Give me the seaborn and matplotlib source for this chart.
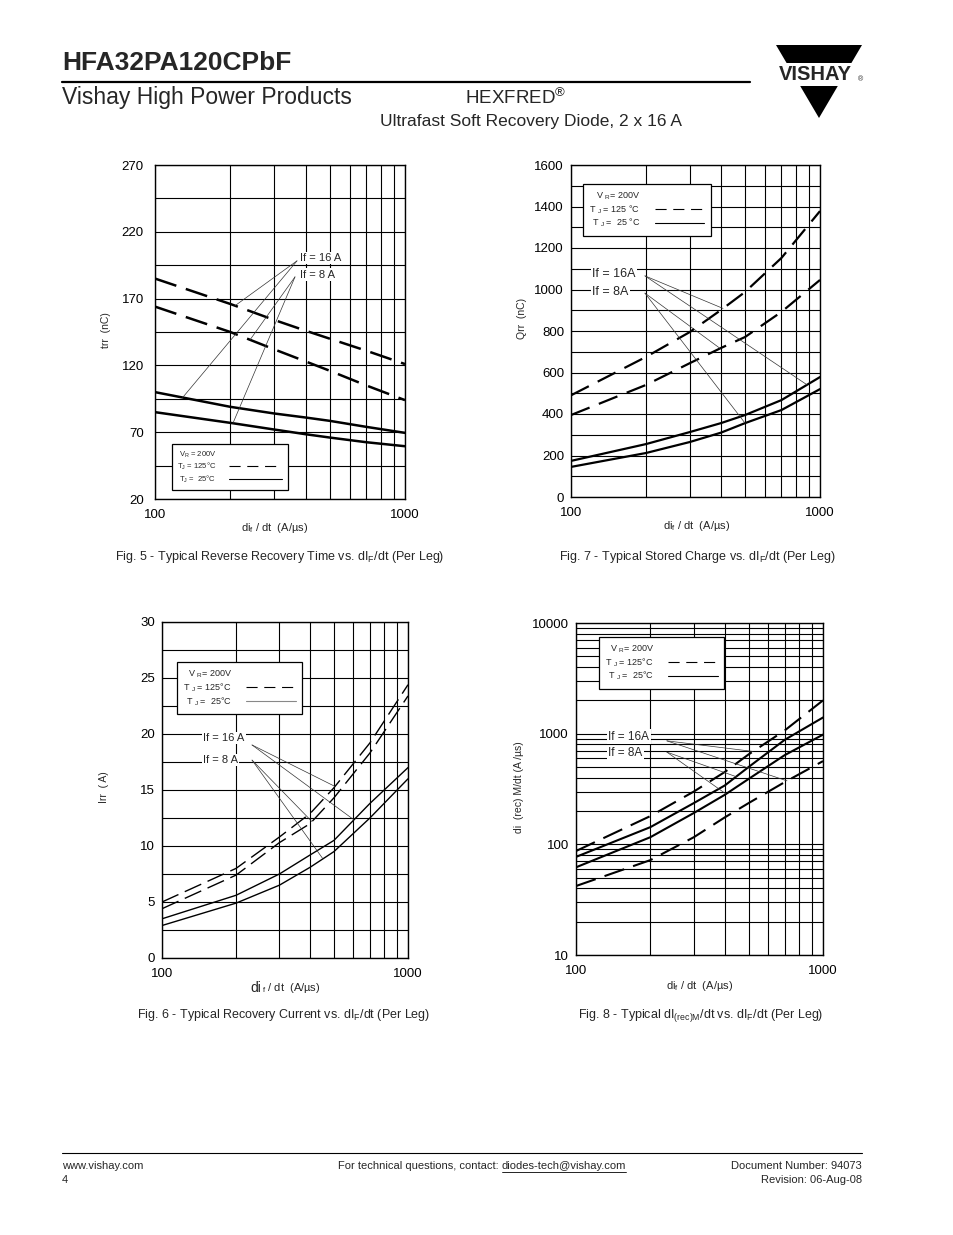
import numpy as np
import pandas as pd
import matplotlib
matplotlib.use("Agg")
import matplotlib.pyplot as plt
from matplotlib.lines import Line2D
from matplotlib.patches import Polygon
from matplotlib.ticker import FixedLocator, NullFormatter, LogLocator
import seaborn as sns

sns.set_style("white")
plt.rcParams['font.family'] = ['Liberation Sans', 'DejaVu Sans']
plt.rcParams['mathtext.default'] = 'regular'

# eixo x comum: di_f/dt (A/us)
didt = [100, 200, 300, 400, 500, 700, 1000]
x_ticks = [100, 1000]
x_minor = [200, 300, 400, 500, 600, 700, 800, 900]

# Fig. 5 - trr
trr_16a_125 = [185, 166, 154, 146, 140, 131, 121]
trr_8a_125 = [164, 145, 132, 123, 116, 105, 94]
trr_16a_25 = [100, 89, 84, 81, 78.5, 74, 69.5]
trr_8a_25 = [85, 77, 72, 68.5, 66, 62.5, 59.5]
trr_ticks = [20, 70, 120, 170, 220, 270]
trr_minor = [45, 95, 145, 195, 245]

# Fig. 7 - Qrr
qrr_16a_125 = [490, 675, 795, 901, 988, 1152, 1378]
qrr_8a_125 = [395, 540, 645, 718, 771, 892, 1046]
qrr_16a_25 = [174, 255, 313, 356, 395, 467, 578]
qrr_8a_25 = [145, 212, 265, 310, 356, 419, 520]
qrr_ticks = [0, 200, 400, 600, 800, 1000, 1200, 1400, 1600]
qrr_minor = [100, 300, 500, 700, 900, 1100, 1300, 1500]

# Fig. 6 - Irr
irr_16a_125 = [5.0, 8.0, 10.8, 12.9, 15.2, 19.2, 24.4]
irr_8a_125 = [4.4, 7.4, 10.3, 12.0, 14.3, 18.3, 23.4]
irr_16a_25 = [3.5, 5.6, 7.5, 9.2, 10.5, 13.8, 17.0]
irr_8a_25 = [2.9, 4.9, 6.5, 8.1, 9.5, 12.5, 16.0]
irr_ticks = [0, 5, 10, 15, 20, 25, 30]
irr_minor = [2.5, 7.5, 12.5, 17.5, 22.5, 27.5]

# Fig. 8 - di(rec)M/dt
direc_16a_125 = [87, 180, 300, 450, 650, 1070, 2000]
direc_16a_25 = [77, 143, 236, 340, 500, 880, 1400]
direc_8a_25 = [62, 116, 192, 280, 390, 640, 980]
direc_8a_125 = [42, 72, 116, 175, 236, 365, 565]
direc_ticks = [10, 100, 1000, 10000]


def ponto(vals, x, logy=False):
    lx = np.log10(didt)
    if logy:
        return x, 10 ** np.interp(np.log10(x), lx, np.log10(vals))
    return x, np.interp(np.log10(x), lx, vals)


def desenha(ax, series, lw, traco, ylim, yticks, yminor=None, logy=False):
    partes = []
    for nome, tj, vals in series:
        partes.append(pd.DataFrame({'didt': didt, 'valor': vals, 'curva': nome, 'tj': tj}))
    df = pd.concat(partes, ignore_index=True)
    sns.lineplot(data=df, x='didt', y='valor', hue='curva', style='tj',
                 palette=['black'] * len(series), dashes={'125': traco, '25': ''},
                 linewidth=lw, estimator=None, legend=False, ax=ax)
    ax.set_xscale('log')
    if logy:
        ax.set_yscale('log')
    ax.set_xlim(100, 1000)
    ax.set_ylim(*ylim)
    ax.set_xticks(x_ticks)
    ax.set_xticklabels([str(v) for v in x_ticks])
    ax.xaxis.set_minor_locator(FixedLocator(x_minor))
    ax.xaxis.set_minor_formatter(NullFormatter())
    ax.set_yticks(yticks)
    ax.set_yticklabels([str(v) for v in yticks])
    if yminor is not None:
        ax.yaxis.set_minor_locator(FixedLocator(yminor))
    ax.yaxis.set_minor_formatter(NullFormatter())
    ax.grid(True, which='both', color='black', lw=0.8)
    ax.set_axisbelow(True)
    ax.set_xlabel('')
    ax.set_ylabel('')
    for s in ax.spines.values():
        s.set_color('black')
        s.set_linewidth(1.0)
    ax.tick_params(which='both', length=0, labelsize=9.5, colors='black')
    ax.tick_params(axis='x', pad=7)
    ax.tick_params(axis='y', pad=5)


def legenda(ax, anchor, fs, lw_h, labels, cor_solida='black', loc='upper left', hl=5.5):
    h = [Line2D([], [], color='none'),
         Line2D([], [], color='black', lw=lw_h, dashes=(10, 6)),
         Line2D([], [], color=cor_solida, lw=lw_h)]
    leg = ax.legend(h, labels, loc=loc, bbox_to_anchor=anchor, markerfirst=False,
                    frameon=True, fancybox=False, edgecolor='black', framealpha=1,
                    fontsize=fs, handlelength=hl, borderpad=0.7, labelspacing=0.15,
                    handletextpad=1.6, borderaxespad=0)
    leg.get_frame().set_linewidth(0.9)
    leg.set_zorder(6)


def anota(ax, texto, pos, origem, alvos, fs):
    ax.text(pos[0], pos[1], texto, transform=ax.transAxes, fontsize=fs, ha='left',
            va='center', bbox=dict(fc='white', ec='none', pad=1), zorder=5)
    for xa, ya in alvos:
        ax.annotate('', xy=(xa, ya), xycoords='data', xytext=origem,
                    textcoords='axes fraction',
                    arrowprops=dict(arrowstyle='-', lw=0.5, color='#333333',
                                    shrinkA=0, shrinkB=0), zorder=5)


fig = plt.figure(figsize=(9.54, 12.35), dpi=100)
W, H = 954, 1235


def caixa(l, t, r, b):
    return [l / W, 1 - b / H, (r - l) / W, (b - t) / H]


lab_x = 'di$_{ f}$ / dt  (A/\u00b5s)'

# ---- Fig. 5
ax5 = fig.add_axes(caixa(155, 165, 405, 499))
desenha(ax5, [('16a125', '125', trr_16a_125), ('8a125', '125', trr_8a_125),
              ('16a25', '25', trr_16a_25), ('8a25', '25', trr_8a_25)],
        1.8, (9, 4), (20, 270), trr_ticks, trr_minor)
ax5.tick_params(axis='y', which='both', length=3, direction='out', width=0.8)
legenda(ax5, (0.068, 0.027), 5.5, 0.8,
        ['V$_R$ = 200V', 'T$_J$ = 125\u00b0C', 'T$_J$ =  25\u00b0C'], loc='lower left', hl=7)
anota(ax5, 'If = 16 A', (0.58, 0.722), (0.568, 0.713),
      [ponto(trr_16a_125, 209), ponto(trr_16a_25, 129)], 8)
anota(ax5, 'If = 8 A', (0.58, 0.672), (0.56, 0.665),
      [ponto(trr_8a_125, 240), ponto(trr_8a_25, 205)], 8)
ax5.text(-0.196, 0.506, 'trr  (nC)', transform=ax5.transAxes, rotation=90,
         ha='center', va='center', fontsize=7.5)
ax5.text(0.48, -0.087, lab_x, transform=ax5.transAxes, ha='center', va='center', fontsize=8)

# ---- Fig. 7
ax7 = fig.add_axes(caixa(571, 165, 820, 497))
desenha(ax7, [('16a125', '125', qrr_16a_125), ('8a125', '125', qrr_8a_125),
              ('16a25', '25', qrr_16a_25), ('8a25', '25', qrr_8a_25)],
        1.6, (9, 4.5), (0, 1600), qrr_ticks, qrr_minor)
legenda(ax7, (0.048, 0.943), 6.5, 0.8,
        ['V $_R$= 200V', 'T $_J$ = 125 \u00b0C', 'T $_J$ =  25 \u00b0C'])
anota(ax7, 'If = 16A', (0.084, 0.672), (0.297, 0.666),
      [ponto(qrr_16a_125, 408), ponto(qrr_16a_25, 887)], 9)
anota(ax7, 'If = 8A', (0.084, 0.617), (0.297, 0.614),
      [ponto(qrr_8a_125, 397), ponto(qrr_8a_25, 500)], 9)
ax7.text(-0.197, 0.539, 'Qrr  (nC)', transform=ax7.transAxes, rotation=90,
         ha='center', va='center', fontsize=7.5)
ax7.text(0.506, -0.087, lab_x, transform=ax7.transAxes, ha='center', va='center', fontsize=8)

# ---- Fig. 6
ax6 = fig.add_axes(caixa(162, 622, 408, 958))
desenha(ax6, [('16a125', '125', irr_16a_125), ('8a125', '125', irr_8a_125),
              ('16a25', '25', irr_16a_25), ('8a25', '25', irr_8a_25)],
        1.0, (13, 5), (0, 30), irr_ticks, irr_minor)
legenda(ax6, (0.061, 0.881), 6.5, 0.8,
        ['V $_R$= 200V', 'T $_J$ = 125\u00b0C', 'T $_J$ =  25\u00b0C'], cor_solida='#888888')
anota(ax6, 'If = 16 A', (0.167, 0.655), (0.366, 0.634),
      [ponto(irr_16a_125, 505), ponto(irr_16a_25, 603)], 8)
anota(ax6, 'If = 8 A', (0.167, 0.589), (0.366, 0.589),
      [ponto(irr_8a_125, 407), ponto(irr_8a_25, 451)], 8)
ax6.text(-0.236, 0.509, 'Irr  ( A)', transform=ax6.transAxes, rotation=90,
         ha='center', va='center', fontsize=7.5)
ax6.text(0.405, -0.089, 'di', transform=ax6.transAxes, ha='right', va='center', fontsize=10)
ax6.text(0.408, -0.089, '$_{f}$ / dt  (A/\u00b5s)', transform=ax6.transAxes, ha='left',
         va='center', fontsize=8)

# ---- Fig. 8
ax8 = fig.add_axes(caixa(576, 623, 823, 955))
desenha(ax8, [('16a125', '125', direc_16a_125), ('16a25', '25', direc_16a_25),
              ('8a25', '25', direc_8a_25), ('8a125', '125', direc_8a_125)],
        1.5, (10, 4.5), (10, 10000), direc_ticks, logy=True)
ax8.yaxis.set_minor_locator(LogLocator(base=10, subs=np.arange(2, 10)))
ax8.yaxis.set_minor_formatter(NullFormatter())
legenda(ax8, (0.093, 0.958), 6.5, 0.8,
        ['V $_R$= 200V', 'T $_J$ = 125\u00b0C', 'T $_J$ =  25\u00b0C'])
anota(ax8, 'If = 16A', (0.13, 0.657), (0.368, 0.645),
      [ponto(direc_16a_125, 521, True), ponto(direc_8a_125, 715, True)], 8.5)
anota(ax8, 'If = 8A', (0.13, 0.608), (0.368, 0.611),
      [ponto(direc_8a_25, 405, True), ponto(direc_16a_25, 445, True)], 8.5)
ax8.text(-0.231, 0.506, 'di  (rec) M/dt (A /\u00b5s)', transform=ax8.transAxes, rotation=90,
         ha='center', va='center', fontsize=7.5)
ax8.text(0.5, -0.093, lab_x, transform=ax8.transAxes, ha='center', va='center', fontsize=8)

# ---- legendas das figuras
fig.text(280 / W, 1 - 557 / H, 'Fig. 5 - Typical Reverse Recovery Time vs. dI$_F$/dt (Per Leg)',
         ha='center', va='center', fontsize=9)
fig.text(697 / W, 1 - 557 / H, 'Fig. 7 - Typical Stored Charge vs. dI$_F$/dt (Per Leg)',
         ha='center', va='center', fontsize=9)
fig.text(284 / W, 1 - 1015 / H, 'Fig. 6 - Typical Recovery Current vs. dI$_F$/dt (Per Leg)',
         ha='center', va='center', fontsize=9)
fig.text(701 / W, 1 - 1015 / H, 'Fig. 8 - Typical dI$_{(rec)M}$/dt vs. dI$_F$/dt (Per Leg)',
         ha='center', va='center', fontsize=9)

# ---- cabecalho
fig.text(62 / W, 1 - 70 / H, 'HFA32PA120CPbF', fontsize=19, fontweight='bold', va='baseline')
fig.add_artist(Line2D([62 / W, 750 / W], [1 - 82 / H, 1 - 82 / H], color='black', lw=1.6))
fig.text(62 / W, 1 - 104 / H, 'Vishay High Power Products', fontsize=16.5, va='baseline')
fig.text(465 / W, 1 - 104 / H, 'HEXFRED$^{\u00ae}$', fontsize=13.5, va='baseline')
fig.text(380 / W, 1 - 126 / H, 'Ultrafast Soft Recovery Diode, 2 x 16 A', fontsize=12.5, va='baseline')

# logotipo
def px(pts):
    return [(x / W, 1 - y / H) for x, y in pts]

fig.add_artist(Polygon(px([(776, 45), (862, 45), (851.4, 63), (786.6, 63)]),
                       closed=True, fc='black', ec='none', transform=fig.transFigure))
fig.add_artist(Polygon(px([(800.2, 86), (837.8, 86), (819, 118)]),
                       closed=True, fc='black', ec='none', transform=fig.transFigure))
fig.text(815 / W, 1 - 74.5 / H, 'VISHAY', fontsize=14.5, fontweight='bold', ha='center', va='center')
fig.text(861 / W, 1 - 80 / H, '\u00ae', fontsize=5, ha='center', va='center')

# ---- rodape
fig.add_artist(Line2D([62 / W, 862 / W], [1 - 1153 / H, 1 - 1153 / H], color='black', lw=0.8))
fig.text(62 / W, 1 - 1166 / H, 'www.vishay.com', fontsize=8, va='center')
fig.text(62 / W, 1 - 1180 / H, '4', fontsize=8, va='center')
fig.text(502 / W, 1 - 1166 / H, 'For technical questions, contact: ', fontsize=8,
         va='center', ha='right')
email = fig.text(502 / W, 1 - 1166 / H, 'diodes-tech@vishay.com', fontsize=8,
                 va='center', ha='left')
fig.canvas.draw()
bb = email.get_window_extent().transformed(fig.transFigure.inverted())
fig.add_artist(Line2D([bb.x0, bb.x1], [bb.y0 - 0.0006, bb.y0 - 0.0006], color='black', lw=0.6))
fig.text(862 / W, 1 - 1166 / H, 'Document Number: 94073', fontsize=8, va='center', ha='right')
fig.text(862 / W, 1 - 1180 / H, 'Revision: 06-Aug-08', fontsize=8, va='center', ha='right')

fig.savefig('out.png', dpi=100, facecolor='white')
